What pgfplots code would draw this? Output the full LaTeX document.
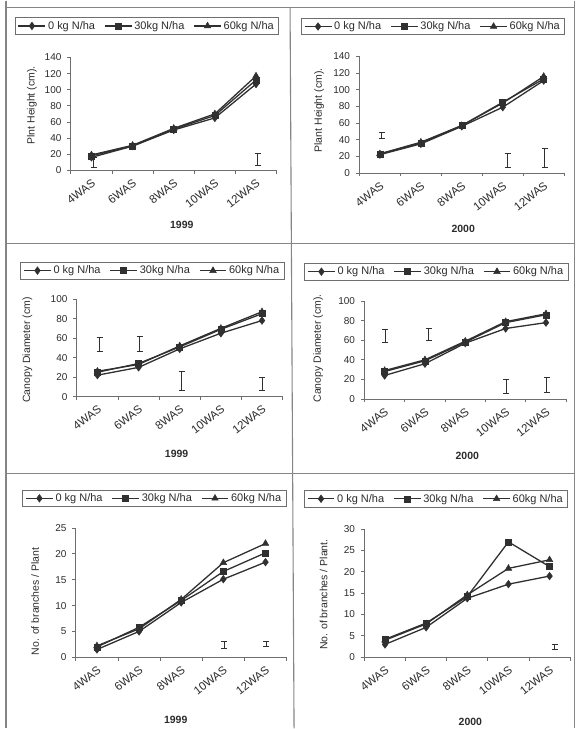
\documentclass[border=0pt]{standalone}
\usepackage{pgfplots}
\pgfplotsset{compat=1.18}
\usepackage{fontspec}
\setmainfont{Liberation Sans}
\definecolor{ln}{HTML}{303030}
\definecolor{txt}{HTML}{2B2B2B}
\definecolor{axg}{HTML}{6E6E6E}
\definecolor{frm}{HTML}{858585}
\pgfplotsset{
  panel/.style={
    scale only axis, clip=false,
    xmin=-0.5, xmax=4.5,
    axis x line*=bottom, axis y line*=left,
    axis line style={-, draw=axg, line width=0.8pt},
    xtick={-0.5,0.5,1.5,2.5,3.5,4.5}, xticklabels={},
    extra x ticks={0,1,2,3,4},
    extra x tick labels={4WAS,6WAS,8WAS,10WAS,12WAS},
    extra x tick style={major tick length=0pt,
      xticklabel style={rotate=38, anchor=north east, inner sep=1pt, yshift=-5pt, xshift=-4pt,
        font=\fontsize{11.5}{13}\selectfont}},
    tick align=outside, major tick length=3.5pt,
    tick style={draw=axg, line width=0.8pt},
    ticklabel style={font=\fontsize{10}{12}\selectfont, text=txt},
    yticklabel style={xshift=-2.5pt},
    /pgf/number format/assume math mode=true,
    ylabel style={font=\fontsize{10.5}{12}\selectfont, text=txt, anchor=center},
    xlabel style={font=\fontsize{10.5}{12}\selectfont\bfseries, text=txt, anchor=center},
    legend columns=3,
    legend style={anchor=center, draw=axg, line width=0.6pt, fill=white,
      font=\fontsize{11}{12.5}\selectfont, text=txt, inner xsep=3pt, inner ysep=1.5pt,
      /tikz/every odd column/.append style={column sep=0pt},
      /tikz/every even column/.append style={column sep=7pt}},
    legend image code/.code={\draw[mark repeat=2,mark phase=2,#1] plot coordinates {(0pt,0pt) (13.5pt,0pt) (27pt,0pt)};},
  },
  s0/.style={color=ln, line width=1.3pt, mark=diamond*, mark size=3.8pt, mark options={fill=ln, line width=0.5pt}},
  s30/.style={color=ln, line width=1.3pt, mark=square*, mark size=3pt, mark options={fill=ln, line width=0.5pt}},
  s60/.style={color=ln, line width=1.3pt, mark=triangle*, mark size=3.8pt, mark options={fill=ln, line width=0.5pt}},
  lsd/.style={forget plot, color=ln, mark=none, line width=1pt,
    error bars/.cd, y dir=both, y explicit,
    error bar style={line width=1pt, color=ln},
    error mark options={rotate=90, mark size=3pt, line width=1pt, color=ln}},
}
\begin{document}
\begin{tikzpicture}[x=1pt,y=1pt]
\path (0pt,0pt) rectangle (578pt,729pt);
% frames
\draw[frm, line width=1.1pt] (6pt,729pt) -- (6pt,722pt) -- (575pt,722pt) -- (575pt,729pt);
\draw[frm, line width=1.1pt] (6pt,722pt) -- (6pt,0pt);
\draw[frm, line width=1.1pt] (575pt,722pt) -- (575pt,0pt);
\draw[frm, line width=1.1pt] (290.5pt,722pt) -- (294.5pt,0pt);
\draw[frm, line width=1.1pt] (6pt,486pt) -- (575pt,486pt);
\draw[frm, line width=1.1pt] (6pt,255pt) -- (575pt,255pt);

% Panel 1
\begin{axis}[panel, at={(71pt,559pt)}, anchor=south west, width=206pt, height=113pt,
  ymin=0, ymax=140, ytick={0,20,...,140},
  ylabel={Plnt Height (cm).}, ylabel style={at={(axis description cs:-0.189,0.575)}},
  xlabel={1999}, xlabel style={at={(axis description cs:0.539,-0.487)}},
  legend style={at={(axis description cs:0.369,1.279)}}]
\addplot[s0] coordinates {(0,16) (1,30) (2,50) (3,65) (4,107)};
\addplot[s30] coordinates {(0,18) (1,30) (2,51) (3,68) (4,112)};
\addplot[s60] coordinates {(0,19) (1,31) (2,52) (3,70) (4,117)};
\legend{0 kg N/ha,30kg N/ha,60kg N/ha}
\addplot[lsd] coordinates {(0.06,10) +- (0,6)};
\addplot[lsd] coordinates {(4.04,13.5) +- (0,7.5)};
\end{axis}

% Panel 2
\begin{axis}[panel, at={(360pt,556.3pt)}, anchor=south west, width=205pt, height=116.7pt,
  ymin=0, ymax=140, ytick={0,20,...,140},
  ylabel={Plant Height (cm).}, ylabel style={at={(axis description cs:-0.197,0.537)}},
  xlabel={2000}, xlabel style={at={(axis description cs:0.507,-0.482)}},
  legend style={at={(axis description cs:0.3585,1.257)}}]
\addplot[s0] coordinates {(0,22) (1,35) (2,56) (3,79) (4,111)};
\addplot[s30] coordinates {(0,23) (1,36) (2,57) (3,85) (4,113)};
\addplot[s60] coordinates {(0,23) (1,37) (2,57) (3,84) (4,116)};
\legend{0 kg N/ha,30kg N/ha,60kg N/ha}
\addplot[lsd] coordinates {(0.04,45) +- (0,4)};
\addplot[lsd] coordinates {(3.12,15) +- (0,8.5)};
\addplot[lsd] coordinates {(4.03,18) +- (0,11)};
\end{axis}

% Panel 3
\begin{axis}[panel, at={(77pt,332.3pt)}, anchor=south west, width=206pt, height=97.7pt,
  ymin=0, ymax=100, ytick={0,20,...,100},
  ylabel={Canopy Diameter (cm)}, ylabel style={at={(axis description cs:-0.241,0.478)}},
  xlabel={1999}, xlabel style={at={(axis description cs:0.485,-0.586)}},
  legend style={at={(axis description cs:0.3665,1.2917)}}]
\addplot[s0] coordinates {(0,22) (1,30) (2,49) (3,65) (4,78)};
\addplot[s30] coordinates {(0,25) (1,34) (2,51) (3,69) (4,85)};
\addplot[s60] coordinates {(0,26) (1,33) (2,52) (3,70) (4,87)};
\legend{0 kg N/ha,30kg N/ha,60kg N/ha}
\addplot[lsd] coordinates {(0.05,53.5) +- (0,7.5)};
\addplot[lsd] coordinates {(1.03,54) +- (0,7.5)};
\addplot[lsd] coordinates {(2.05,16) +- (0,10)};
\addplot[lsd] coordinates {(4.0,13) +- (0,6.5)};
\end{axis}

% Panel 4
\begin{axis}[panel, at={(365pt,330pt)}, anchor=south west, width=202pt, height=98pt,
  ymin=0, ymax=100, ytick={0,20,...,100},
  ylabel={Canopy Diameter (cm).}, ylabel style={at={(axis description cs:-0.229,0.517)}},
  xlabel={2000}, xlabel style={at={(axis description cs:0.51,-0.582)}},
  legend style={at={(axis description cs:0.356,1.301)}}]
\addplot[s0] coordinates {(0,24) (1,36) (2,57) (3,72) (4,78)};
\addplot[s30] coordinates {(0,28) (1,39) (2,58) (3,78) (4,86)};
\addplot[s60] coordinates {(0,29) (1,40) (2,59) (3,79) (4,87)};
\legend{0 kg N/ha,30kg N/ha,60kg N/ha}
\addplot[lsd] coordinates {(0.02,64) +- (0,6.5)};
\addplot[lsd] coordinates {(1.09,66) +- (0,6)};
\addplot[lsd] coordinates {(3.02,13) +- (0,7.3)};
\addplot[lsd] coordinates {(4.02,14.4) +- (0,7.6)};
\end{axis}

% Panel 5
\begin{axis}[panel, at={(76pt,71.3pt)}, anchor=south west, width=211pt, height=129.4pt,
  ymin=0, ymax=25, ytick={0,5,...,25},
  ylabel={No. of branches / Plant}, ylabel style={at={(axis description cs:-0.194,0.433)}},
  xlabel={1999}, xlabel style={at={(axis description cs:0.474,-0.481)}},
  legend style={at={(axis description cs:0.372,1.230)}}]
\addplot[s0] coordinates {(0,1.5) (1,5.0) (2,10.6) (3,15.1) (4,18.4)};
\addplot[s30] coordinates {(0,2.0) (1,5.8) (2,11.0) (3,16.6) (4,20.2)};
\addplot[s60] coordinates {(0,2.2) (1,5.5) (2,11.2) (3,18.3) (4,22.0)};
\legend{0 kg N/ha,30kg N/ha,60kg N/ha}
\addplot[lsd] coordinates {(3.02,2.4) +- (0,0.7)};
\addplot[lsd] coordinates {(4.02,2.6) +- (0,0.5)};
\end{axis}

% Panel 6
\begin{axis}[panel, at={(365pt,71.3pt)}, anchor=south west, width=206pt, height=128.4pt,
  ymin=0, ymax=30, ytick={0,5,...,30},
  ylabel={No. of branches / Plant.}, ylabel style={at={(axis description cs:-0.199,0.488)}},
  xlabel={2000}, xlabel style={at={(axis description cs:0.515,-0.501)}},
  legend style={at={(axis description cs:0.347,1.236)}}]
\addplot[s0] coordinates {(0,3.0) (1,7.0) (2,13.8) (3,17.1) (4,19.0)};
\addplot[s30] coordinates {(0,4.2) (1,8.0) (2,14.2) (3,27.0) (4,21.2)};
\addplot[s60] coordinates {(0,4.0) (1,7.8) (2,14.6) (3,20.8) (4,22.8)};
\legend{0 kg N/ha,30kg N/ha,60kg N/ha}
\addplot[lsd] coordinates {(4.12,2.4) +- (0,0.6)};
\end{axis}
\end{tikzpicture}
\end{document}
